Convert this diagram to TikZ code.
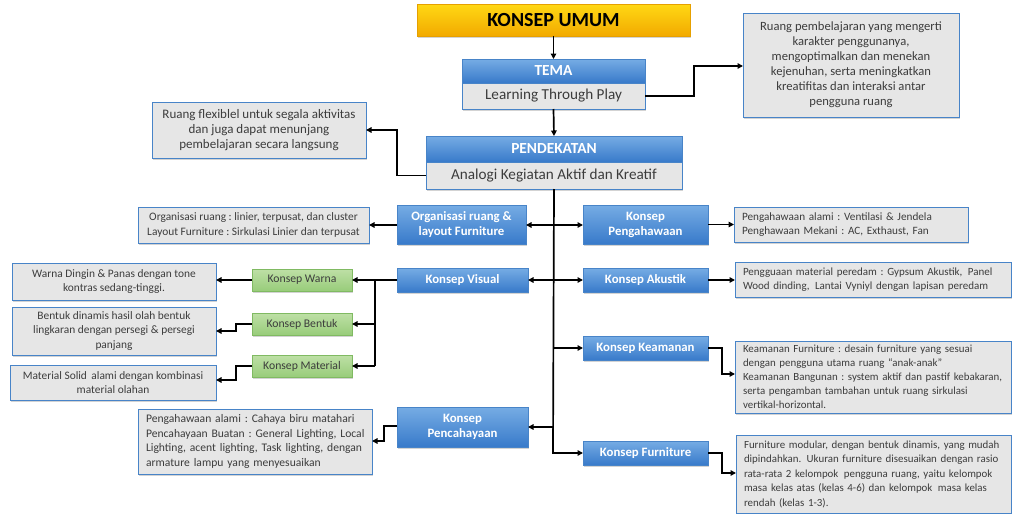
\documentclass[tikz,border=0pt]{standalone}
\usepackage{fontspec}
\setmainfont{Carlito}
\frenchspacing
\usetikzlibrary{arrows.meta,shadows}
\definecolor{bluetop}{RGB}{118,172,228}
\definecolor{bluebot}{RGB}{56,122,202}
\definecolor{blueline}{RGB}{72,132,200}
\definecolor{boxgray}{RGB}{230,230,230}
\definecolor{orgtop}{RGB}{255,216,20}
\definecolor{orgbot}{RGB}{242,170,0}
\definecolor{orgline}{RGB}{230,160,0}
\definecolor{grntop}{RGB}{190,224,166}
\definecolor{grnbot}{RGB}{152,204,122}
\definecolor{grnline}{RGB}{128,186,98}
\definecolor{txtgray}{RGB}{60,60,60}
\tikzset{
  x=1pt, y=-1pt,
  base/.style={inner sep=0pt, outer sep=0pt, drop shadow={shadow xshift=1.2pt, shadow yshift=-1.5pt, opacity=0.35}},
  orangebox/.style={base, top color=orgtop, bottom color=orgbot, draw=orgline, line width=0.6pt, font=\bfseries\fontsize{20}{22}\selectfont, align=center},
  bluebox/.style={base, top color=bluetop, bottom color=bluebot, draw=blueline, line width=0.6pt, text=white, font=\bfseries\fontsize{12.8}{15}\selectfont, align=center},
  bighead/.style={bluebox, font=\bfseries\fontsize{15.4}{17}\selectfont},
  graybox/.style={base, fill=boxgray, draw=blueline, line width=0.9pt, text=txtgray, font=\fontsize{11.4}{14.5}\selectfont, align=center},
  grayleft/.style={graybox, align=left},
  graybody/.style={graybox, font=\fontsize{15.2}{16}\selectfont},
  toptext/.style={graybox, font=\fontsize{12.6}{15}\selectfont},
  greenbox/.style={base, top color=grntop, bottom color=grnbot, draw=grnline, line width=0.6pt, text=txtgray, font=\fontsize{11.7}{13}\selectfont, align=center},
  conn/.style={line width=1.7pt, -{Triangle[length=5.5pt,width=5.5pt]}},
  plain/.style={line width=1.7pt},
}
\newcommand\mkbox[7]{\node[#1, minimum width={(#5-#3)*1pt}, minimum height={(#6-#4)*1pt}] (#2) at ({(#3+#5)/2},{(#4+#6)/2}) {#7};}
\newcommand\mkleft[7]{\node[#1, minimum width={(#5-#3)*1pt}, minimum height={(#6-#4)*1pt}, text width={(#5-#3-16)*1pt}] (#2) at ({(#3+#5)/2},{(#4+#6)/2}) {#7};}
\newcommand\lineb[1]{\mbox{#1}}
\begin{document}
\begin{tikzpicture}
\useasboundingbox (0,0) rectangle (1012,514);
% top
\mkbox{orangebox}{umum}{417}{4}{690}{36}{KONSEP UMUM}
\mkbox{bighead}{tema}{462}{59}{645}{83}{TEMA}
\mkbox{graybody}{temab}{462}{83}{645}{109}{Learning Through Play}
\mkbox{toptext}{temat}{743}{13}{959}{117}{Ruang pembelajaran yang mengerti\\karakter penggunanya,\\mengoptimalkan dan menekan\\kejenuhan, serta meningkatkan\\kreatifitas dan interaksi antar\\pengguna ruang}
\mkbox{bighead}{pend}{426}{136}{682}{162}{PENDEKATAN}
\mkbox{graybody}{pendb}{426}{162}{682}{189}{Analogi Kegiatan Aktif dan Kreatif}
\mkbox{toptext, font=\fontsize{13}{15}\selectfont}{pendt}{152}{102}{366}{158}{Ruang flexiblel untuk segala aktivitas\\dan juga dapat menunjang\\pembelajaran secara langsung}
% left branches
\mkbox{bluebox}{org}{397}{205}{526}{244}{Organisasi ruang \&\\layout Furniture}
\mkbox{graybox}{orgt}{138}{207}{369}{243}{Organisasi ruang : linier, terpusat, dan cluster\\Layout Furniture : Sirkulasi Linier dan terpusat}
\mkbox{bluebox}{vis}{397}{268}{528}{292}{Konsep Visual}
\mkbox{greenbox}{warna}{252}{269}{352}{291}{Konsep Warna}
\mkbox{greenbox}{bentuk}{252}{313}{352}{335}{Konsep Bentuk}
\mkbox{greenbox}{material}{252}{355}{352}{377}{Konsep Material}
\mkbox{graybox}{warnat}{12}{263}{216}{300}{Warna Dingin \& Panas dengan tone\\kontras sedang-tinggi.}
\mkbox{graybox}{bentukt}{12}{307}{216}{355}{Bentuk dinamis hasil olah bentuk\\lingkaran dengan persegi \& persegi\\panjang}
\mkbox{graybox}{materialt}{10}{365}{216}{400}{Material Solid\, alami dengan kombinasi\\material olahan}
\mkbox{bluebox}{pen}{397}{407}{528}{447}{Konsep\\Pencahayaan}
\mkleft{grayleft, font=\fontsize{11.6}{14.5}\selectfont}{pent}{138}{409}{372}{474}{\lineb{Pengahawaan alami : Cahaya biru matahari}\\\lineb{Pencahayaan Buatan : General Lighting, Local}\\\lineb{Lighting, acent lighting, Task lighting, dengan}\\\lineb{armature lampu yang menyesuaikan}}
% right branches
\mkbox{bluebox}{hawa}{583}{205}{708}{244}{Konsep\\Pengahawaan}
\mkleft{grayleft, font=\fontsize{11.2}{14.5}\selectfont}{hawat}{734}{207}{968}{242}{\lineb{Pengahawaan alami : Ventilasi \& Jendela}\\\lineb{Penghawaan Mekani : AC, Exthaust, Fan}}
\mkbox{bluebox}{aku}{583}{268}{708}{292}{Konsep Akustik}
\mkleft{grayleft, font=\fontsize{11}{14}\selectfont}{akut}{735}{262}{1011}{297}{\lineb{Pengguaan material peredam : Gypsum Akustik,\, Panel}\\\lineb{Wood dinding,\, Lantai Vyniyl dengan lapisan peredam}}
\mkbox{bluebox}{aman}{583}{336}{708}{360}{Konsep Keamanan}
\mkleft{grayleft, font=\fontsize{10.9}{14}\selectfont}{amant}{735}{341}{1011}{413}{\lineb{Keamanan Furniture : desain furniture yang sesuai}\\\lineb{dengan pengguna utama ruang ``anak-anak''}\\\lineb{Keamanan Bangunan : system aktif dan pastif kebakaran,}\\\lineb{serta pengamban tambahan untuk ruang sirkulasi}\\\lineb{vertikal-horizontal.}}
\mkbox{bluebox}{furn}{583}{441}{708}{465}{Konsep Furniture}
\mkleft{grayleft, font=\fontsize{10.9}{14.5}\selectfont}{furnt}{736}{435}{1011}{513}{\lineb{Furniture modular, dengan bentuk dinamis, yang mudah}\\\lineb{dipindahkan.\, Ukuran furniture disesuaikan dengan rasio}\\\lineb{rata-rata 2 kelompok\, pengguna ruang, yaitu kelompok}\\\lineb{masa kelas atas (kelas 4-6) dan kelompok\, masa kelas}\\\lineb{rendah (kelas 1-3).}}
% trunk
\coordinate (tr1) at (553,225);
\coordinate (tr2) at (553,280);
\coordinate (tr3) at (553,348);
\coordinate (tr4) at (553,427);
\draw[conn] (umum.south) -- (tema.north);
\draw[conn] (temab.south) -- (pend.north);
\draw[conn] (temab.east) -| (694,66) -- (temat.west |- 0,66);
\draw[conn] (pendb.west) -| (397,130) -- (pendt.east |- 0,130);
\draw[conn] (pendb.south) -- (553,453) -- (furn.west |- 0,453);
\draw[conn] (tr1) -- (org.east |- tr1);
\draw[conn] (tr2) -- (vis.east |- tr2);
\draw[conn] (tr4) -- (pen.east |- tr4);
\draw[conn] (tr1) -- (hawa.west |- tr1);
\draw[conn] (tr2) -- (aku.west |- tr2);
\draw[conn] (tr3) -- (aman.west |- tr3);
% sub connectors
\draw[conn] (org.west |- 0,225) -- (orgt.east |- 0,225);
\draw[conn] (hawa.east) -- (hawat.west |- hawa.east);
\draw[conn] (aku.east) -- (akut.west |- aku.east);
\draw[conn] (aman.east) -- (722,348) -- (722,374) -- (amant.west |- 0,374);
\draw[conn] (furn.east) -- (722,453) -- (722,473) -- (furnt.west |- 0,473);
\draw[plain] (vis.west) -- (375,280) -- (375,366);
\draw[conn] (375,280) -- (warna.east);
\draw[conn] (375,324) -- (bentuk.east);
\draw[conn] (375,366) -- (material.east);
\draw[conn] (warna.west) -- (warnat.east |- warna.west);
\draw[conn] (bentuk.west) -- (236,324) -- (236,331) -- (bentukt.east |- 0,331);
\draw[conn] (material.west) -- (236,366) -- (236,380) -- (materialt.east |- 0,380);
\draw[conn] (pen.west |- 0,426) -- (384,426) -- (384,441) -- (pent.east |- 0,441);
\end{tikzpicture}
\end{document}
